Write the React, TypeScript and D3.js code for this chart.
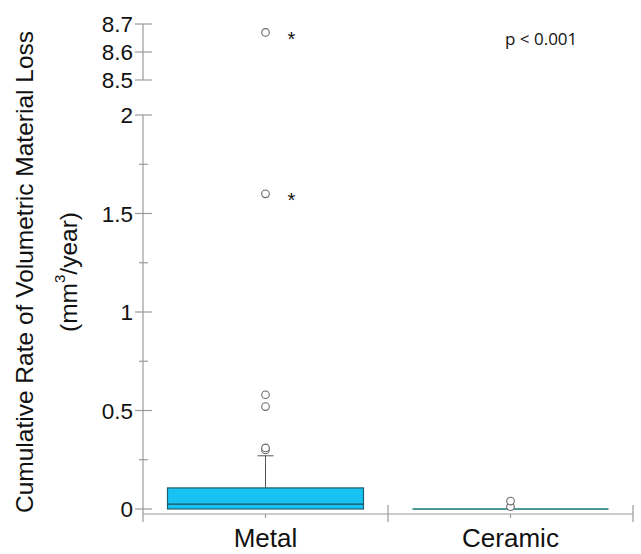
import React from "react";
import * as d3 from "d3";

const categories = ["Metal", "Ceramic"];
const boxStats = [
  { cat: "Metal", q1: 0.0, median: 0.025, q3: 0.107, whiskerLo: 0.0, whiskerHi: 0.27 },
  { cat: "Ceramic", q1: 0.0, median: 0.0, q3: 0.0, whiskerLo: 0.0, whiskerHi: 0.0 },
];
const metalOutliers = [0.3, 0.31, 0.52, 0.58, 1.6, 8.67];
const metalExtremes = [1.6, 8.67];
const ceramicOutliers = [0.012, 0.04];
const lowTicks = [0, 0.5, 1, 1.5, 2];
const lowMinorTicks = [0.25, 0.75, 1.25, 1.75];
const highTicks = [8.5, 8.6, 8.7];

const axisColor = "#9a9a9a";
const font = "'Liberation Sans', Arial, Helvetica, sans-serif";

export default function App() {
  const yLow = d3.scaleLinear().domain([0, 2]).range([509, 115]);
  const yHigh = d3.scaleLinear().domain([8.5, 8.7]).range([80, 24]);
  const y = (v: number) => (v > 5 ? yHigh(v) : yLow(v));
  const x = d3.scaleBand().domain(categories).range([143, 633]).paddingInner(0).paddingOuter(0);
  const bw = x.bandwidth();
  const boxW = bw * 0.8;
  const axisX = 143;
  const axisY = 514;

  const outliersFor = (cat: string) => (cat === "Metal" ? metalOutliers : ceramicOutliers);

  return (
    <svg width={641} height={554} style={{ position: "absolute", left: 0, top: 0 }} fontFamily={font}>
      <rect width={641} height={554} fill="#fff" />
      <line x1={axisX} x2={axisX} y1={yHigh(8.7)} y2={yHigh(8.5)} stroke={axisColor} strokeWidth={1.2} />
      <line x1={axisX} x2={axisX} y1={yLow(2)} y2={522} stroke={axisColor} strokeWidth={1.2} />
      {highTicks.map((t) => (
        <g key={"h" + t}>
          <line x1={axisX - 8} x2={axisX + 9} y1={yHigh(t)} y2={yHigh(t)} stroke={axisColor} strokeWidth={1.2} />
          <text x={133} y={yHigh(t)} dy="0.36em" textAnchor="end" fontSize={22.5} fill="#111">
            {t.toFixed(1)}
          </text>
        </g>
      ))}
      {lowTicks.map((t) => (
        <g key={"l" + t}>
          <line x1={axisX - 8} x2={axisX + 9} y1={yLow(t)} y2={yLow(t)} stroke={axisColor} strokeWidth={1.2} />
          <text x={133} y={yLow(t)} dy="0.36em" textAnchor="end" fontSize={22.5} fill="#111">
            {String(t)}
          </text>
        </g>
      ))}
      {lowMinorTicks.map((t) => (
        <line key={"m" + t} x1={axisX - 4} x2={axisX + 5} y1={yLow(t)} y2={yLow(t)} stroke={axisColor} strokeWidth={1.2} />
      ))}
      <line x1={axisX} x2={633} y1={axisY} y2={axisY} stroke={axisColor} strokeWidth={1.2} />
      {categories.map((c) => (
        <g key={"xt" + c}>
          <line x1={(x(c) as number) + bw} x2={(x(c) as number) + bw} y1={505} y2={522} stroke={axisColor} strokeWidth={1.2} />
          <line x1={(x(c) as number) + bw / 2} x2={(x(c) as number) + bw / 2} y1={axisY} y2={518} stroke={axisColor} strokeWidth={1.2} />
          <text x={(x(c) as number) + bw / 2} y={547} textAnchor="middle" fontSize={26} fill="#111">
            {c}
          </text>
        </g>
      ))}
      {boxStats.map((b) => {
        const cx = (x(b.cat) as number) + bw / 2;
        const x0 = cx - boxW / 2;
        if (b.q3 - b.q1 > 0) {
          return (
            <g key={"b" + b.cat}>
              <line x1={cx} x2={cx} y1={y(b.q3)} y2={y(b.whiskerHi)} stroke="#555" strokeWidth={1} />
              <line x1={cx - 8} x2={cx + 8} y1={y(b.whiskerHi)} y2={y(b.whiskerHi)} stroke="#555" strokeWidth={1} />
              <rect x={x0} y={y(b.q3)} width={boxW} height={y(b.q1) - y(b.q3)} fill="#18c2f2" stroke="#1f5f72" strokeWidth={1.2} />
              <line x1={x0} x2={x0 + boxW} y1={y(b.median)} y2={y(b.median)} stroke="#1d4e5e" strokeWidth={1.2} />
            </g>
          );
        }
        return (
          <line key={"b" + b.cat} x1={x0} x2={x0 + boxW} y1={y(b.median)} y2={y(b.median)} stroke="#4f9995" strokeWidth={2} />
        );
      })}
      {categories.map((c) =>
        outliersFor(c).map((v, i) => (
          <circle key={c + "o" + i} cx={(x(c) as number) + bw / 2} cy={y(v)} r={3.8} fill="#fff" stroke="#6a6a6a" strokeWidth={1.1} />
        ))
      )}
      {metalExtremes.map((v, i) => (
        <text key={"ast" + i} x={(x("Metal") as number) + bw / 2 + 26} y={y(v)} dy="0.66em" textAnchor="middle" fontSize={20} fill="#111">
          *
        </text>
      ))}
      <text transform="translate(33,272) rotate(-90)" textAnchor="middle" fontSize={24.5} fill="#111">
        Cumulative Rate of Volumetric Material Loss
      </text>
      <text transform="translate(77,272) rotate(-90)" textAnchor="middle" fontSize={24.5} fill="#111">
        (mm<tspan fontSize={15} dy="-12">3</tspan><tspan dy="12">/year)</tspan>
      </text>
      <text x={505} y={45} fontSize={17} fontFamily="'Open Sans', sans-serif" fill="#111">
        p &lt; 0.001
      </text>
    </svg>
  );
}
